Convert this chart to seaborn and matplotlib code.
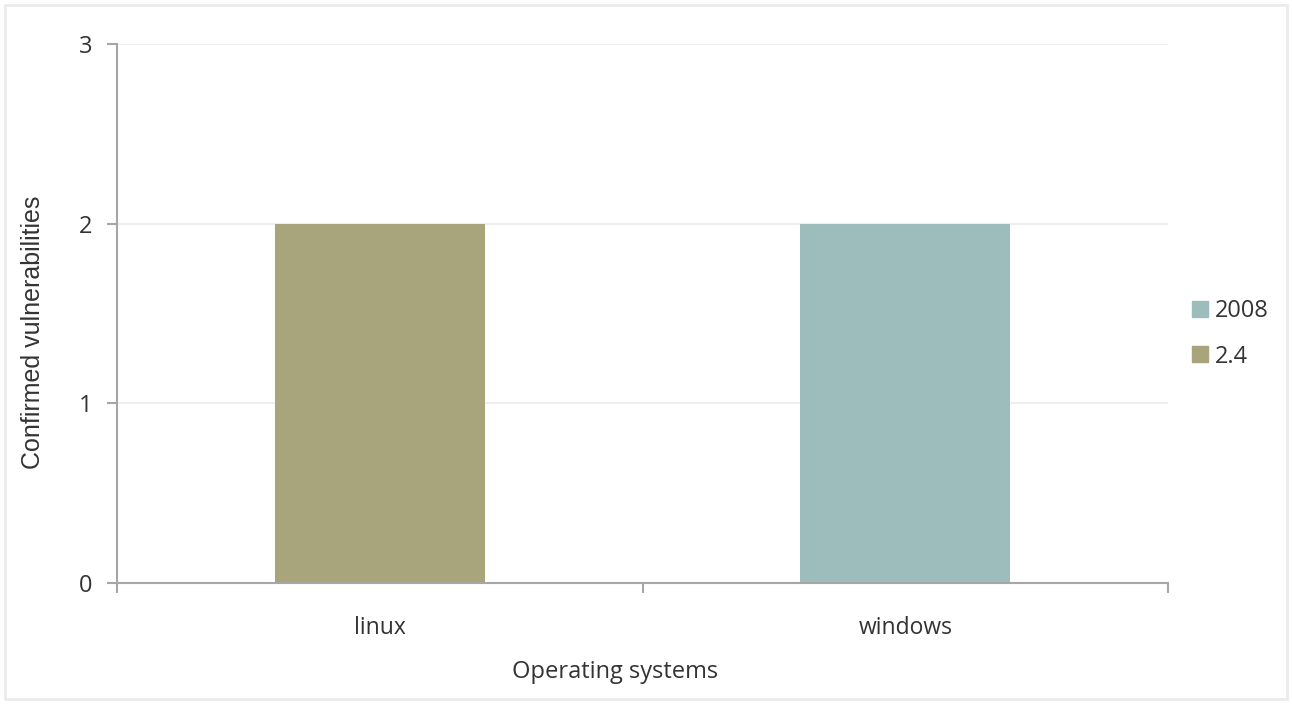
import matplotlib
matplotlib.use('Agg')
import matplotlib.pyplot as plt
from matplotlib.patches import Rectangle
from matplotlib.ticker import FixedLocator
import pandas as pd
import seaborn as sns

systems = ['linux', 'windows']
versions = ['2008', '2.4']
counts_2008 = [0, 2]
counts_24 = [2, 0]
colors = {'2008': '#9DBDBC', '2.4': '#A8A47C'}

TEXT = '#333333'
AXIS = '#A6A6A6'


def main():
    sns.set_theme(style='white')
    plt.rcParams['font.family'] = ['Open Sans', 'DejaVu Sans']

    rows = []
    for i, name in enumerate(systems):
        rows.append({'os': name, 'version': '2008', 'count': counts_2008[i]})
        rows.append({'os': name, 'version': '2.4', 'count': counts_24[i]})
    df = pd.DataFrame(rows)

    fig = plt.figure(figsize=(12.92, 7.04), dpi=100)
    ax = fig.add_axes([117 / 1292, 1 - 583 / 704, (1168 - 117) / 1292, (583 - 44) / 704])

    sns.barplot(data=df, x='os', y='count', hue='version', hue_order=versions,
                palette=colors, dodge=False, width=0.4, saturation=1,
                linewidth=0, ax=ax, legend=False)

    ax.set_xlim(-0.5, 1.5)
    ax.set_ylim(0, 3)
    ax.set_yticks([0, 1, 2, 3])
    ax.yaxis.grid(True, color='#EFEFEF', linewidth=1.5)
    ax.set_axisbelow(True)

    for side in ['top', 'right']:
        ax.spines[side].set_visible(False)
    for side in ['left', 'bottom']:
        ax.spines[side].set_color(AXIS)
        ax.spines[side].set_linewidth(1.5)

    ax.xaxis.set_minor_locator(FixedLocator([-0.5, 0.5, 1.5]))
    ax.tick_params(axis='x', which='major', length=0, pad=23.5,
                   labelsize=16.5, labelcolor=TEXT)
    ax.tick_params(axis='x', which='minor', bottom=True, length=7,
                   width=1.5, color=AXIS)
    ax.tick_params(axis='y', left=True, length=7, width=1.5, color=AXIS,
                   pad=11, labelsize=17, labelcolor=TEXT)

    # the original labels sit a little off the axis centre
    ax.set_xlabel('Operating systems', fontsize=17, color=TEXT, labelpad=15)
    ax.xaxis.label.set_x(0.474)
    ax.set_ylabel('Confirmed vulnerabilities', fontsize=18, color=TEXT,
                  family=['Liberation Sans', 'DejaVu Sans'], labelpad=24)
    ax.yaxis.label.set_y(0.466)

    handles = [Rectangle((0, 0), 1, 1, color=colors[v]) for v in versions]
    fig.legend(handles, versions, loc='center left',
               bbox_to_anchor=(1192 / 1292, 1 - 334 / 704), frameon=False,
               borderpad=0, borderaxespad=0,
               fontsize=17, labelcolor=TEXT, handlelength=0.68,
               handleheight=0.68, handletextpad=0.3, labelspacing=0.9)

    fig.patches.append(Rectangle((5 / 1292, 5 / 704), 1 - 10 / 1292, 1 - 10 / 704,
                                 transform=fig.transFigure, fill=False,
                                 edgecolor='#EBEBEB', linewidth=2))

    fig.savefig('out.png', dpi=100, facecolor='white')


if __name__ == '__main__':
    main()
